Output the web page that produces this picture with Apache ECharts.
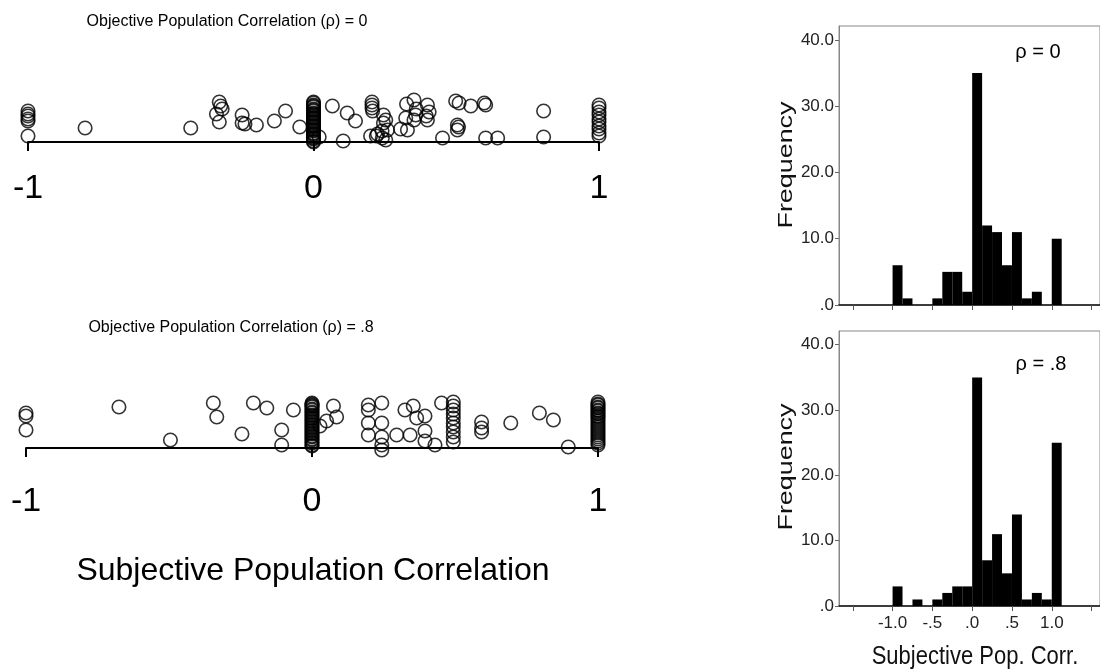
<!DOCTYPE html>
<html>
<head>
<meta charset="utf-8">
<script src="https://cdn.jsdelivr.net/npm/echarts@6.0.0/dist/echarts.min.js"></script>
<style>
  html, body { margin: 0; padding: 0; background: #fff; }
  #main { width: 1100px; height: 671px; }
</style>
</head>
<body>
<div id="main"></div>
<script>
// dot plots: [subjective correlation, jitter height above the axis line]
var dotsRho0 = [
  [-1, 31], [-1, 28], [-1, 26], [-1, 23], [-1, 21], [-1, 6],
  [-0.80, 14], [-0.43, 14],
  [-0.33, 40], [-0.32, 33], [-0.34, 28], [-0.33, 20], [-0.325, 36],
  [-0.25, 27], [-0.25, 19], [-0.24, 18], [-0.20, 17], [-0.137, 21],
  [-0.098, 31], [-0.048, 15],
  [0, 0], [0, 1], [0, 3], [0, 4], [0, 5], [0, 7], [0, 8], [0, 9], [0, 11], [0, 12],
  [0, 13], [0, 15], [0, 16], [0, 17], [0, 19], [0, 20], [0, 21], [0, 23], [0, 24], [0, 25],
  [0, 27], [0, 28], [0, 29], [0, 31], [0, 32], [0, 33], [0, 35], [0, 36], [0, 37], [0, 39],
  [0, 40], [0.02, 5],
  [0.066, 36], [0.104, 1], [0.118, 29],
  [0.147, 21], [0.205, 40], [0.205, 37], [0.205, 34], [0.207, 31], [0.20, 6], [0.22, 6],
  [0.224, 8], [0.241, 4], [0.245, 27], [0.245, 19], [0.24, 11],
  [0.253, 22], [0.259, 12], [0.253, 2], [0.305, 13], [0.323, 24], [0.326, 38], [0.329, 12],
  [0.352, 42], [0.358, 27], [0.352, 22], [0.36, 33],
  [0.399, 37], [0.399, 22], [0.405, 30], [0.395, 26], [0.452, 4],
  [0.498, 41], [0.51, 39], [0.504, 17], [0.504, 12], [0.508, 15], [0.551, 36],
  [0.598, 39], [0.603, 37], [0.603, 4],
  [0.645, 4], [0.806, 31], [0.806, 5],
  [1, 6], [1, 9], [1, 13], [1, 16], [1, 20], [1, 23], [1, 27], [1, 30], [1, 34], [1, 37]
];
var dotsRho8 = [
  [-1, 35], [-1, 32], [-1, 18],
  [-0.675, 41], [-0.495, 8],
  [-0.345, 45], [-0.333, 31], [-0.245, 14], [-0.205, 45], [-0.158, 40],
  [-0.106, 18], [-0.106, 3], [-0.065, 38],
  [0, 2], [0, 3], [0, 5], [0, 6], [0, 8], [0, 9], [0, 11], [0, 12], [0, 14], [0, 15],
  [0, 17], [0, 18], [0, 20], [0, 21], [0, 23], [0, 24], [0, 26], [0, 27], [0, 29], [0, 30],
  [0, 32], [0, 33], [0, 35], [0, 36], [0, 38], [0, 39], [0, 41], [0, 42], [0, 43], [0, 44],
  [0, 45],
  [0.028, 22], [0.051, 27], [0.075, 42], [0.086, 31],
  [0.197, 43], [0.197, 38], [0.197, 25], [0.197, 13],
  [0.244, 45], [0.244, 25], [0.244, 11], [0.244, 3], [0.244, -2],
  [0.296, 13], [0.325, 38], [0.343, 13], [0.354, 42], [0.366, 30],
  [0.395, 32], [0.395, 17], [0.395, 7], [0.43, 3], [0.453, 45],
  [0.494, 46], [0.494, 42], [0.494, 38], [0.494, 34], [0.494, 30], [0.494, 25], [0.494, 21],
  [0.494, 16], [0.494, 11], [0.494, 6],
  [0.593, 26], [0.593, 20], [0.593, 16],
  [0.695, 25], [0.795, 35], [0.844, 28], [0.896, 1],
  [1, 3], [1, 5], [1, 7], [1, 9], [1, 11], [1, 13], [1, 15], [1, 17], [1, 19], [1, 21],
  [1, 23], [1, 25], [1, 27], [1, 29], [1, 31], [1, 32], [1, 34], [1, 35], [1, 37], [1, 38],
  [1, 40], [1, 41], [1, 43], [1, 44], [1, 46]
];

// histograms
var binStart = [-1.0, -0.875, -0.75, -0.625, -0.5, -0.375, -0.25, -0.125, 0,
                0.125, 0.25, 0.375, 0.5, 0.625, 0.75, 0.875, 1.0];
var binWidth = 0.125;
var freqRho0 = [6, 1, 0, 0, 1, 5, 5, 2, 35, 12, 11, 6, 11, 1, 2, 0, 10];
var freqRho8 = [3, 0, 1, 0, 1, 2, 3, 3, 35, 7, 11, 5, 14, 1, 2, 1, 25];
var histYTicks = [0, 10, 20, 30, 40];
var histXTicks = [-1.5, -1, -0.5, 0, 0.5, 1, 1.5];
var histXLabels = [-1, -0.5, 0, 0.5, 1];

var sans = "'Liberation Sans', Arial, sans-serif";

function histData(freq) {
    return binStart.map(function (s, i) { return [s, s + binWidth, freq[i]]; });
}

function renderBar(params, api) {
    var p0 = api.coord([api.value(0), api.value(2)]);
    var p1 = api.coord([api.value(1), 0]);
    return {
        type: 'rect',
        shape: { x: p0[0], y: p0[1], width: p1[0] - p0[0], height: p1[1] - p0[1] },
        style: { fill: '#000' }
    };
}

function fmtHist(v) {
    if (Math.abs(v) < 1e-9) return '.0';
    return Math.abs(v) >= 1 ? v.toFixed(1) : v.toFixed(1).replace('0.', '.');
}

function dotXAxis(idx, margin) {
    return {
        gridIndex: idx, type: 'value', min: -1, max: 1, interval: 1,
        axisLine: { onZero: true, lineStyle: { color: '#000', width: 2 } },
        axisTick: { show: true, length: 9, lineStyle: { color: '#000', width: 2 } },
        axisLabel: { fontSize: 34, color: '#000', fontFamily: sans, margin: margin,
                     formatter: function (v) { return String(v); } },
        splitLine: { show: false }
    };
}

function dotYAxis(idx) {
    return { gridIndex: idx, type: 'value', min: -8, max: 52, show: false };
}

function histXAxis(idx, showLabels) {
    return {
        gridIndex: idx, type: 'value', min: -1.673, max: 1.606,
        axisLine: { onZero: false, lineStyle: { color: '#111', width: 1.5 } },
        axisTick: { show: true, length: 5, customValues: histXTicks, lineStyle: { color: '#555' } },
        axisLabel: { show: showLabels, customValues: histXLabels, fontSize: 17, color: '#222',
                     fontFamily: sans, margin: 9, formatter: fmtHist },
        splitLine: { show: false }
    };
}

function histYAxis(idx) {
    return {
        gridIndex: idx, type: 'value', min: 0, max: 42.1,
        axisLine: { show: true, onZero: false, lineStyle: { color: '#888', width: 1 } },
        axisTick: { show: true, length: 4, customValues: histYTicks, lineStyle: { color: '#666' } },
        axisLabel: { customValues: histYTicks, fontSize: 17, color: '#222',
                     fontFamily: sans, margin: 5, formatter: fmtHist },
        splitLine: { show: false }
    };
}

var dotStyle = { color: 'transparent', borderColor: '#000', borderWidth: 1.6 };

var chart = echarts.init(document.getElementById('main'));
chart.setOption({
    animation: false,
    backgroundColor: '#fff',
    grid: [
        { left: 28, top: 90, width: 571, height: 60 },
        { left: 26, top: 396, width: 572, height: 60 },
        { left: 839, top: 26, right: -3, height: 279, show: true, borderColor: '#888', borderWidth: 1 },
        { left: 839, top: 331, right: -3, height: 275, show: true, borderColor: '#888', borderWidth: 1 }
    ],
    xAxis: [dotXAxis(0, 22), dotXAxis(1, 29), histXAxis(2, false), histXAxis(3, true)],
    yAxis: [dotYAxis(0), dotYAxis(1), histYAxis(2), histYAxis(3)],
    series: [
        { type: 'scatter', xAxisIndex: 0, yAxisIndex: 0, data: dotsRho0, symbol: 'circle',
          symbolSize: 13.5, itemStyle: dotStyle, clip: false },
        { type: 'scatter', xAxisIndex: 1, yAxisIndex: 1, data: dotsRho8, symbol: 'circle',
          symbolSize: 13.5, itemStyle: dotStyle, clip: false },
        { type: 'custom', xAxisIndex: 2, yAxisIndex: 2, data: histData(freqRho0),
          encode: { x: [0, 1], y: 2 }, renderItem: renderBar },
        { type: 'custom', xAxisIndex: 3, yAxisIndex: 3, data: histData(freqRho8),
          encode: { x: [0, 1], y: 2 }, renderItem: renderBar }
    ],
    graphic: [
        { type: 'text', x: 227, y: 22, style: { text: 'Objective Population Correlation (ρ) = 0',
          font: '16px ' + sans, fill: '#000', textAlign: 'center', textVerticalAlign: 'middle' } },
        { type: 'text', x: 231, y: 328, style: { text: 'Objective Population Correlation (ρ) = .8',
          font: '16px ' + sans, fill: '#000', textAlign: 'center', textVerticalAlign: 'middle' } },
        { type: 'text', x: 313, y: 571, style: { text: 'Subjective Population Correlation',
          font: '32px ' + sans, fill: '#000', textAlign: 'center', textVerticalAlign: 'middle' } },
        { type: 'text', x: 786, y: 165, rotation: Math.PI / 2, scaleX: 1.28,
          style: { text: 'Frequency', font: '21px ' + sans, fill: '#111',
                   textAlign: 'center', textVerticalAlign: 'middle' } },
        { type: 'text', x: 786, y: 467, rotation: Math.PI / 2, scaleX: 1.28,
          style: { text: 'Frequency', font: '21px ' + sans, fill: '#111',
                   textAlign: 'center', textVerticalAlign: 'middle' } },
        { type: 'text', x: 1038, y: 52, style: { text: 'ρ = 0', font: '20px ' + sans, fill: '#000',
          textAlign: 'center', textVerticalAlign: 'middle' } },
        { type: 'text', x: 1041, y: 364, style: { text: 'ρ = .8', font: '20px ' + sans, fill: '#000',
          textAlign: 'center', textVerticalAlign: 'middle' } },
        { type: 'text', x: 975, y: 657, scaleY: 1.2, style: { text: 'Subjective Pop. Corr.',
          font: '22px ' + sans, fill: '#111', textAlign: 'center', textVerticalAlign: 'middle' } }
    ]
});
</script>
</body>
</html>
